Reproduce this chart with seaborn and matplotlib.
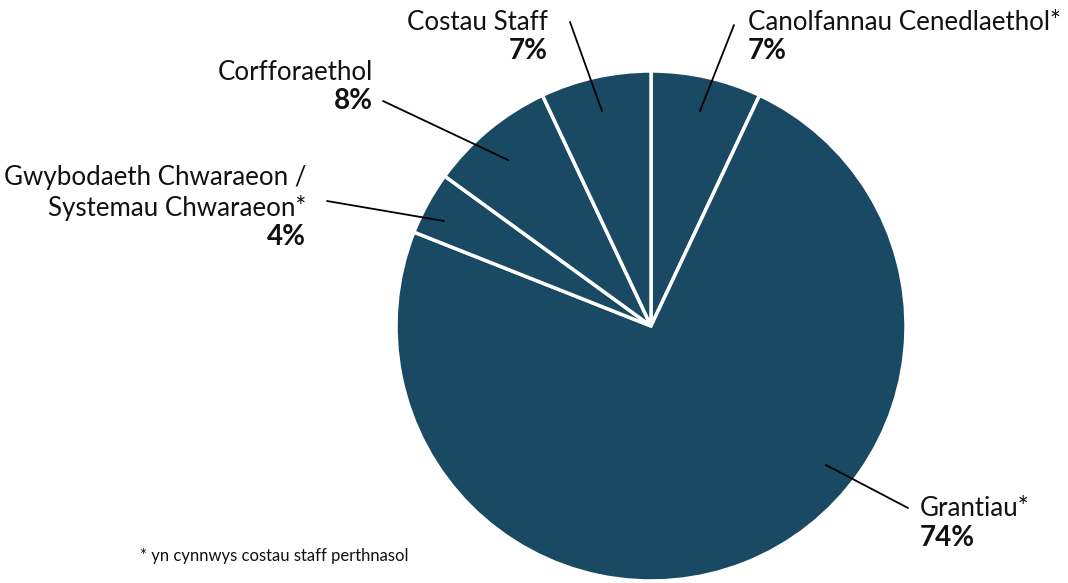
import matplotlib.pyplot as plt
import seaborn as sns

# data
categories = ["Canolfannau Cenedlaethol*", "Grantiau*",
              "Gwybodaeth Chwaraeon /\nSystemau Chwaraeon*",
              "Corfforaethol", "Costau Staff"]
shares = [7, 74, 4, 8, 7]
footnote = "* yn cynnwys costau staff perthnasol"

W, H = 1068, 583
sns.set_theme(style="white")
plt.rcParams["font.family"] = ["Lato", "DejaVu Sans"]

fig = plt.figure(figsize=(W / 100, H / 100), dpi=100)
ax = fig.add_axes([0, 0, 1, 1])


def py(y):
    return H - y


ax.pie(shares, startangle=90, counterclock=False, colors=["#1a4a63"] * 5,
       center=(651, py(326)), radius=255,
       wedgeprops=dict(edgecolor="white", linewidth=2.5))

# pie() resets the limits, so put pixel space back afterwards
ax.set_xlim(0, W)
ax.set_ylim(0, H)
ax.set_aspect("equal")
ax.axis("off")

# label layout: (text x, name y, pct y, align, leader start, leader end)
layout = [
    (748, 22, 51, "left", (700, 111), (734, 25)),
    (920, 508, 538, "left", (826, 465), (908, 508)),
    (306, 193, 237, "right", (444, 221), (327, 201)),
    (373, 72, 101, "right", (508, 160), (383, 101)),
    (548, 22, 51, "right", (602, 111), (570, 22)),
]

for name, val, (tx, ny, vy, ha, p0, p1) in zip(categories, shares, layout):
    ax.text(tx, py(ny), name, ha=ha, va="center", fontsize=18.6,
            linespacing=1.2, color="#111111")
    ax.text(tx, py(vy), f"{val}%", ha=ha, va="center", fontsize=20,
            fontweight="bold", color="#111111")
    ax.plot([p0[0], p1[0]], [py(p0[1]), py(p1[1])], color="black", lw=1.3)

ax.text(140, py(556), footnote, ha="left", va="center", fontsize=12,
        color="#111111")

fig.savefig("out.png", dpi=100)
